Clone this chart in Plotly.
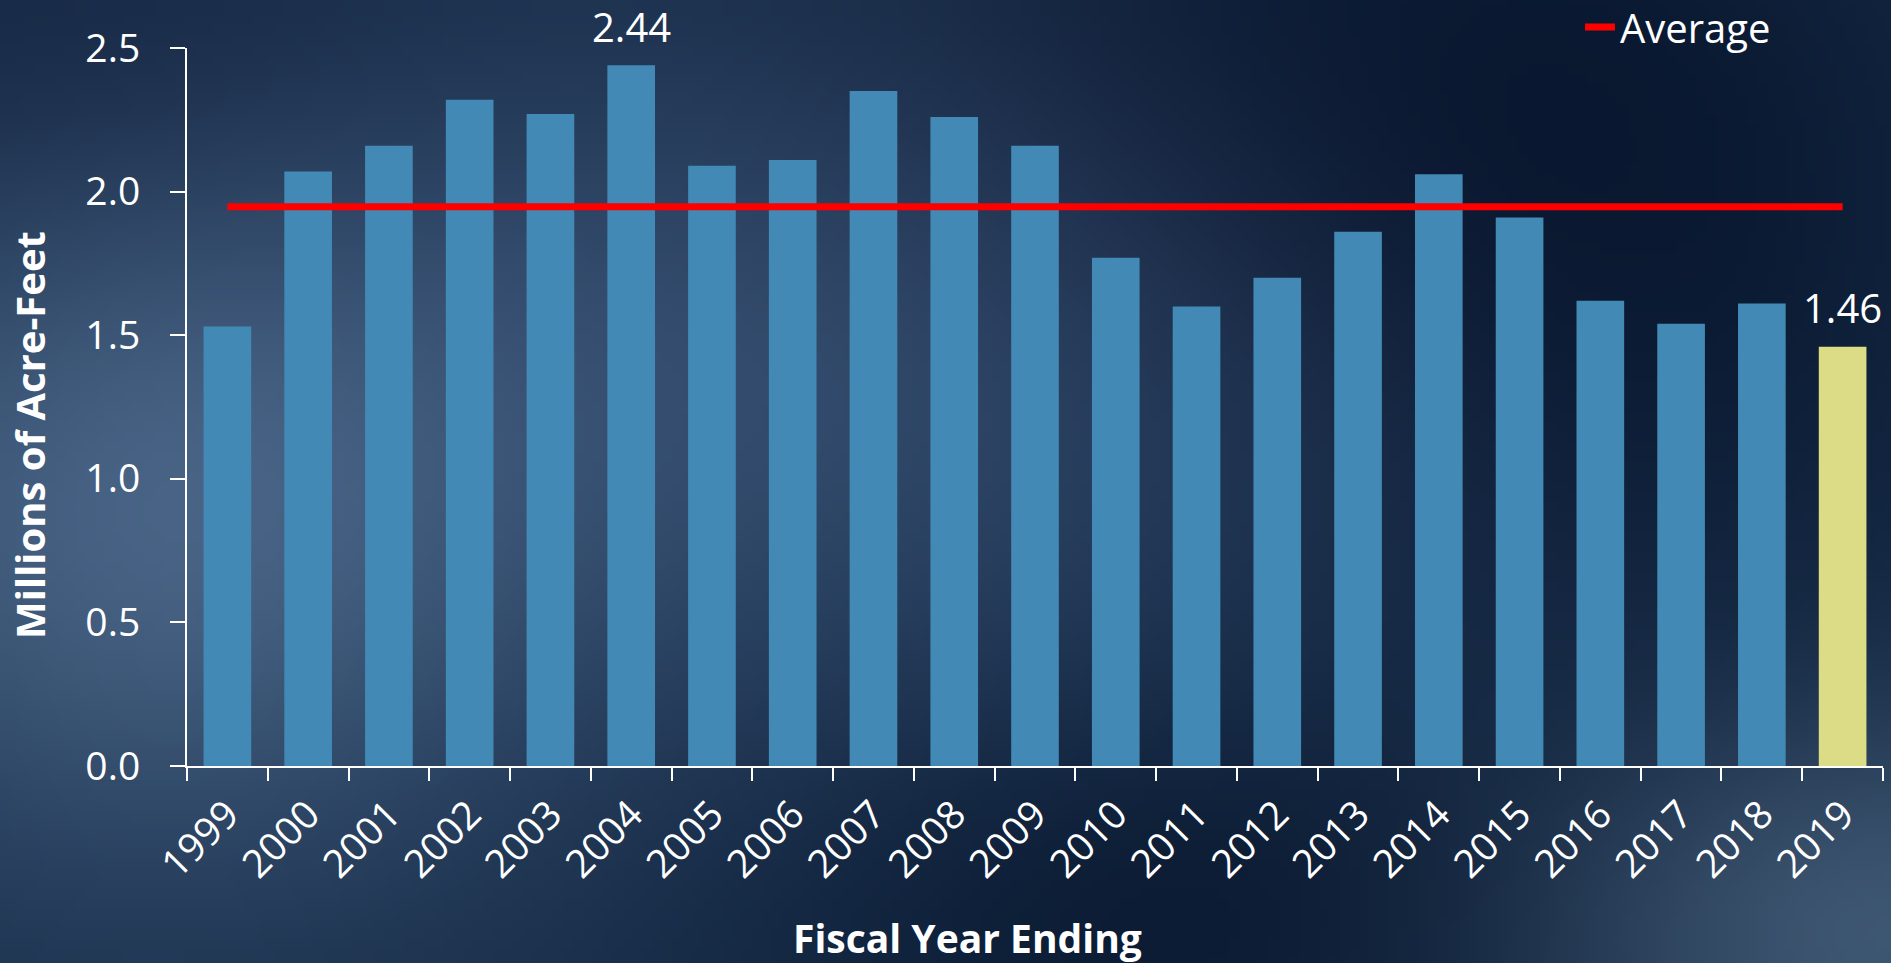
import base64
import struct
import zlib

import numpy as np
import plotly.graph_objects as go

# ---------------- data ----------------
years = [str(y) for y in range(1999, 2020)]
values = [1.53, 2.07, 2.16, 2.32, 2.27, 2.44, 2.09, 2.11, 2.35, 2.26, 2.16,
          1.77, 1.60, 1.70, 1.86, 2.06, 1.91, 1.62, 1.54, 1.61, 1.46]
highlight_year = "2019"
labeled_years = ["2004", "2019"]
average_value = round(sum(values) / len(values), 3)
y_ticks = [0.0, 0.5, 1.0, 1.5, 2.0, 2.5]

# ---------------- style ----------------
W, H = 1891, 963
ML, MR, MT, MB = 187, 8, 48, 197
PW, PH = W - ML - MR, H - MT - MB
BAR_BLUE = "#428ab5"
BAR_YELLOW = "#dcdc87"
FONT = "Open Sans"


def png_data_uri(arr):
    h, w, _ = arr.shape
    raw = b"".join(b"\x00" + arr[i].tobytes() for i in range(h))

    def chunk(t, d):
        c = struct.pack(">I", len(d)) + t + d
        return c + struct.pack(">I", zlib.crc32(t + d) & 0xFFFFFFFF)

    png = (b"\x89PNG\r\n\x1a\n"
           + chunk(b"IHDR", struct.pack(">IIBBBBB", w, h, 8, 2, 0, 0, 0))
           + chunk(b"IDAT", zlib.compress(raw, 9))
           + chunk(b"IEND", b""))
    return "data:image/png;base64," + base64.b64encode(png).decode()


# soft dark-blue backdrop (decorative only)
gw, gh = 190, 97
gx = np.linspace(0, W, gw)[None, :]
gy = np.linspace(0, H, gh)[:, None]
img = np.zeros((gh, gw, 3)) + np.array([24, 46, 74], dtype=float)
blobs = [
    (150, 520, 300, 260, (45, 50, 55)),
    (880, 330, 380, 260, (28, 32, 38)),
    (1300, 90, 420, 260, (-16, -24, -28)),
    (1200, 920, 320, 160, (-14, -20, -24)),
    (1870, 930, 260, 160, (40, 44, 44)),
    (80, 40, 260, 160, (-6, -10, -10)),
    (1650, 400, 260, 300, (-8, -12, -14)),
]
for cx, cy, sx, sy, d in blobs:
    wgt = np.exp(-(((gx - cx) / sx) ** 2 + ((gy - cy) / sy) ** 2) / 2)
    img += wgt[:, :, None] * np.array(d, dtype=float)[None, None, :]
img = np.clip(img, 0, 255).astype(np.uint8)
bg_uri = png_data_uri(img)

bar_colors = [BAR_YELLOW if y == highlight_year else BAR_BLUE for y in years]

fig = go.Figure()
fig.add_trace(go.Bar(
    x=years, y=values, marker=dict(color=bar_colors, line=dict(width=0)),
    showlegend=False, hoverinfo="x+y",
))
fig.add_trace(go.Scatter(
    x=[years[0], years[-1]], y=[average_value, average_value], mode="lines",
    line=dict(color="#ff0000", width=7), name="Average",
))

for yr in labeled_years:
    idx = years.index(yr)
    v = values[idx]
    fig.add_annotation(x=idx, y=v, text=f"{v:.2f}", showarrow=False,
                       xref="x", yref="y",
                       yanchor="middle", yshift=39,
                       font=dict(family=FONT, size=40, color="white"))

fig.add_annotation(text="<b>Millions of Acre-Feet</b>", textangle=-90,
                   xref="paper", yref="paper",
                   x=(29 - ML) / PW, y=(H - MB - 435) / PH,
                   xanchor="center", yanchor="middle", showarrow=False,
                   font=dict(family=FONT, size=40, color="white"))
fig.add_annotation(text="<b>Fiscal Year Ending</b>",
                   xref="paper", yref="paper",
                   x=(967 - ML) / PW, y=(H - MB - 937) / PH,
                   xanchor="center", yanchor="middle", showarrow=False,
                   font=dict(family=FONT, size=39, color="white"))

fig.add_layout_image(dict(
    source=bg_uri, xref="paper", yref="paper",
    x=-ML / PW, y=1 + MT / PH, sizex=W / PW, sizey=H / PH,
    xanchor="left", yanchor="top", sizing="stretch", layer="below",
))

fig.update_layout(
    width=W, height=H, autosize=False,
    margin=dict(l=ML, r=MR, t=MT, b=MB, pad=0, autoexpand=False),
    paper_bgcolor="#1e3a5a", plot_bgcolor="rgba(0,0,0,0)",
    bargap=0.41,
    font=dict(family=FONT, color="white"),
    showlegend=True,
    legend=dict(x=(1776 - ML) / PW, y=(H - MB - 27) / PH,
                xanchor="right", yanchor="middle",
                bgcolor="rgba(0,0,0,0)", font=dict(size=40, color="white"),
                itemwidth=30),
    xaxis=dict(type="category", range=[-0.5, len(years) - 0.5],
               showgrid=False, zeroline=False,
               showline=True, linecolor="white", linewidth=2,
               ticks="outside", tickson="boundaries", ticklen=13,
               tickcolor="white", tickwidth=2, tickangle=-45,
               ticklabelstandoff=8,
               tickfont=dict(family=FONT, size=39, color="white")),
    yaxis=dict(range=[0, 2.5], tickvals=y_ticks, tickformat=".1f",
               showgrid=False, zeroline=False,
               showline=True, linecolor="white", linewidth=2,
               ticks="outside", ticklen=15, tickcolor="white", tickwidth=2,
               ticklabelstandoff=22,
               tickfont=dict(family=FONT, size=39, color="white")),
)

fig.write_html(
    "out.html",
    config={"displayModeBar": False},
    post_script="document.body.style.margin='0';document.body.style.overflow='hidden';",
)
